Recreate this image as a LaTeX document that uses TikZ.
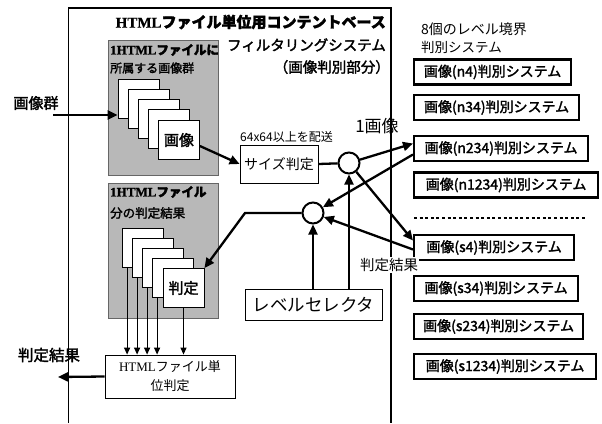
\documentclass[tikz,border=0pt]{standalone}
\usepackage{fontspec}
\setmainfont{Liberation Serif}
\newfontfamily\jp{Noto Sans CJK JP}
\newfontfamily\jpb[FakeBold=2]{Noto Sans CJK JP}
\newfontfamily\rmb[FakeBold=1]{Liberation Serif}
\usetikzlibrary{arrows.meta}
\tikzset{
  sysbox/.style={draw, line width=2.2pt, fill=white, minimum height=25pt, inner sep=0pt, anchor=west, font=\jpb\fontsize{14}{15}\selectfont},
  card/.style={draw, fill=white, line width=0.8pt, minimum width=41pt, minimum height=39pt, inner sep=0pt},
  grayarea/.style={draw=black!60, line width=0.6pt, fill=black!28},
  plainbox/.style={draw, fill=white, line width=0.8pt, inner sep=0pt},
  junction/.style={circle, draw, line width=2pt, fill=white, minimum size=21pt, inner sep=0pt},
  arr/.style={line width=2.3pt, -{Triangle[length=10pt,width=9pt]}},
  arrthin/.style={line width=1.2pt, -{Triangle[length=7pt,width=6pt]}},
  plainline/.style={line width=2.3pt},
  frame/.style={line width=1.4pt},
  lbl/.style={inner sep=0pt},
}
\begin{document}
\begin{tikzpicture}[x=1pt,y=-1pt]
\useasboundingbox (0,0) rectangle (602,423);
% main frame
\coordinate (ftl) at (68,8);
\coordinate (ftr) at (391,8);
\coordinate (fbl) at (68,423);
\coordinate (fbr) at (391,423);
\draw[line width=0.7pt] (fbl) -- (ftl);
\draw[frame] (ftl) -- (ftr) -- (fbr);
% title
\node[lbl, anchor=east] (t1) at (386,22) {\rmb\bfseries\fontsize{15}{16}\selectfont HTML\jpb ファイル単位用コンテントベース};
\node[lbl, anchor=east] (t2) at (386,45) {\jpb\fontsize{14.5}{16}\selectfont フィルタリングシステム};
\node[lbl, anchor=east] (t3) at (390,67) {\jpb\fontsize{14.5}{16}\selectfont （画像判別部分）};
% gray area 1
\path[grayarea] (108,40) rectangle (218,175);
\node[lbl, anchor=west] (g1a) at (110,50) {\rmb\bfseries\fontsize{13}{13}\selectfont 1HTML\jpb\fontsize{12.5}{12}\selectfont ファイルに};
\node[lbl, anchor=west] (g1b) at (110,68) {\jpb\fontsize{12}{12}\selectfont 所属する画像群};
\node[card] (im1) at (138.5,99) {};
\node[card] (im2) at (148.5,109) {};
\node[card] (im3) at (158.5,119) {};
\node[card] (im4) at (168.5,129) {};
\node[card, font=\jpb\fontsize{15}{16}\selectfont] (im5) at (179,140) {画像};
% gray area 2
\path[grayarea] (108,183) rectangle (218,318);
\node[lbl, anchor=west] (g2a) at (110,192) {\rmb\bfseries\fontsize{13}{13}\selectfont 1HTML\jpb\fontsize{12.5}{12}\selectfont ファイル};
\node[lbl, anchor=west] (g2b) at (110,213) {\jpb\fontsize{12.5}{13}\selectfont 分の判定結果};
\node[card] (jd1) at (143,248) {};
\node[card] (jd2) at (153,258) {};
\node[card] (jd3) at (163,268) {};
\node[card] (jd4) at (173,278) {};
\node[card, font=\jpb\fontsize{15}{16}\selectfont] (jd5) at (183.5,288) {判定};
% size check
\node[plainbox, minimum width=78pt, minimum height=38pt, font=\jp\fontsize{14}{15}\selectfont] (size) at (279,164) {サイズ判定};
\node[lbl, anchor=south west, font=\jp\fontsize{12}{12}\selectfont] (sizelbl) at (240,143) {64x64以上を配送};
% junctions
\node[junction] (c1) at (349,163) {};
\node[junction] (c2) at (313,213) {};
\node[lbl, font=\jp\fontsize{17}{18}\selectfont] (one) at (377,126) {1画像};
% level selector
\node[plainbox, minimum width=137pt, minimum height=31pt, font=\jp\fontsize{17.5}{18}\selectfont] (sel) at (313.5,304.5) {レベルセレクタ};
% html judgement
\node[plainbox, minimum width=130pt, minimum height=43pt, align=center, font=\fontsize{13}{19}\selectfont] (html) at (170,376.5) {HTML\jp ファイル単\\\jp 位判定};
% left labels
\node[lbl, font=\jpb\fontsize{15}{15}\selectfont] (imgs) at (36,103) {画像群};
\coordinate (inS) at (53,115);
\node[lbl, font=\jpb\fontsize{15.5}{16}\selectfont] (res) at (49,355) {判定結果};
\coordinate (outE) at (58,377);
% right side
\node[lbl, anchor=west, font=\jp\fontsize{14}{14}\selectfont] (r1) at (421,29) {8個のレベル境界};
\node[lbl, anchor=west, font=\jp\fontsize{13.5}{14}\selectfont] (r2) at (421,47) {判別システム};
\node[sysbox, minimum width=157pt] (n4) at (413,72) {画像(n4)判別システム};
\node[sysbox, minimum width=165pt] (n34) at (413,107.5) {画像(n34)判別システム};
\node[sysbox, minimum width=174pt] (n234) at (413,148.5) {画像(n234)判別システム};
\node[sysbox, minimum width=184pt] (n1234) at (413,185) {画像(n1234)判別システム};
\node[sysbox, minimum width=160pt] (s4) at (413,247.5) {画像(s4)判別システム};
\node[sysbox, minimum width=164pt] (s34) at (413,288.5) {画像(s34)判別システム};
\node[sysbox, minimum width=169pt] (s234) at (413,326.5) {画像(s234)判別システム};
\node[sysbox, minimum width=182pt] (s1234) at (413,366.5) {画像(s1234)判別システム};
\coordinate (dotA) at (414,218);
\coordinate (dotB) at (585,218);
\draw[line width=2.4pt, dash pattern=on 3pt off 2.6pt] (dotA) -- (dotB);
\node[lbl, fill=white, inner sep=1pt, font=\jp\fontsize{14.5}{15}\selectfont] (reslbl) at (389,265) {判定結果};
% connectors
\draw[arr] (inS) -- (inS -| im1.west);
\draw[arr] ([yshift=-6pt]im5.east) -- (size.west);
\draw[plainline] (size.east) -- (c1);
\draw[arr] (c1) -- ([yshift=5pt]n234.west);
\draw[arr] ([yshift=-6pt]n234.west) -- (c2);
\draw[arr] (c1) -- ([yshift=7pt]s4.west);
\draw[arr] ([yshift=-2pt]s4.west) -- (c2);
\draw[arr] (sel.north -| c2) -- (c2);
\draw[arr] (sel.north -| c1) -- (c1);
\coordinate (bend) at (245,213);
\draw[arr] (c2.west) -- (bend) -- (jd5.north east);
\foreach \c in {jd1,jd2,jd3,jd4}{
  \draw[arrthin] ([xshift=5pt]\c.south west) -- ([xshift=5pt]\c.south west |- html.north);
}
\draw[arrthin] (jd5.south) -- (jd5.south |- html.north);
\draw[arr] (html.west) -- (outE);
\end{tikzpicture}
\end{document}
